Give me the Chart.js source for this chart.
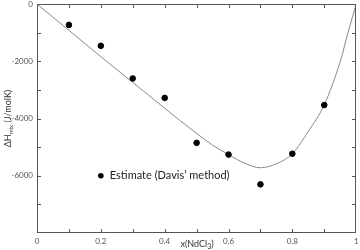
<!DOCTYPE html>
<html>
<head>
<meta charset="utf-8">
<script src="https://cdn.jsdelivr.net/npm/chart.js@4/dist/chart.umd.min.js"></script>
<style>
  html, body { margin: 0; padding: 0; background: #fff; }
  #wrap { width: 360px; height: 250px; }
</style>
</head>
<body>
<div id="wrap"><canvas id="c"></canvas></div>
<script>
// Davis' method estimates
const estX = [0.1, 0.2, 0.3, 0.4, 0.5, 0.6, 0.7, 0.8, 0.9]
const estH = [-730, -1460, -2600, -3280, -4850, -5260, -6300, -5230, -3530]

// fitted curve
const fitX = [0, 0.05, 0.1, 0.15, 0.2, 0.25, 0.3, 0.35, 0.4, 0.45, 0.5, 0.55, 0.6, 0.65, 0.7, 0.75, 0.8, 0.85, 0.9, 0.95, 0.975, 1]
const fitH = [0, -460, -920, -1380, -1840, -2290, -2740, -3190, -3640, -4090, -4520, -4930, -5260, -5560, -5720, -5580, -5230, -4450, -3520, -2010, -970, 0]

const LEGEND_LABEL = "Estimate (Davis\u2019 method)"
const FONT = "Lato, 'Open Sans', sans-serif"
const TICK_COLOR = "#555"

const drawSubText = (ctx, parts, cx, y) => {
  // parts: [text, size, dy]
  let total = 0
  parts.forEach(([t, size]) => {
    ctx.font = size + "px " + FONT
    total += ctx.measureText(t).width
  })
  let x = cx - total / 2
  parts.forEach(([t, size, dy]) => {
    ctx.font = size + "px " + FONT
    ctx.fillText(t, x, y + dy)
    x += ctx.measureText(t).width
  })
}

const frame = {
  id: "frame",
  afterDraw(chart) {
    const { ctx, chartArea: a, scales } = chart
    const L = Math.round(a.left), R = Math.round(a.right)
    const T = Math.round(a.top), B = Math.round(a.bottom)
    ctx.save()
    ctx.fillStyle = "#555"
    // box, drawn as thin fills
    ctx.fillRect(L, T, R - L, 1)
    ctx.fillRect(L, B - 1, R - L, 1)
    ctx.fillRect(L, T, 1, B - T)
    ctx.fillRect(R - 1, T, 1, B - T)

    // inward ticks on all four sides
    scales.x.ticks.forEach((t) => {
      const px = Math.round(scales.x.getPixelForValue(t.value))
      ctx.fillRect(Math.min(px, R - 1), B - 4, 1, 3)
      ctx.fillRect(Math.min(px, R - 1), T + 1, 1, 3)
    })
    scales.y.ticks.forEach((t) => {
      const py = Math.round(scales.y.getPixelForValue(t.value))
      ctx.fillRect(L + 1, Math.min(py, B - 1), 3, 1)
      ctx.fillRect(R - 4, Math.min(py, B - 1), 3, 1)
    })

    // legend
    const lx = scales.x.getPixelForValue(0.2)
    const ly = scales.y.getPixelForValue(-6000)
    ctx.fillStyle = "#000"
    ctx.beginPath()
    ctx.arc(lx, ly, 2.8, 0, Math.PI * 2)
    ctx.fill()
    ctx.fillStyle = "#222"
    ctx.font = "11px " + FONT
    ctx.textBaseline = "middle"
    ctx.fillText(LEGEND_LABEL, lx + 9, ly)

    // axis titles with subscripts
    ctx.fillStyle = "#333"
    ctx.textBaseline = "alphabetic"
    drawSubText(ctx, [["x(NdCl", 9, 0], ["3", 7, 2], [")", 9, 0]], 197, 247)

    ctx.translate(11, (a.top + a.bottom) / 2)
    ctx.rotate(-Math.PI / 2)
    drawSubText(ctx, [["\u0394H", 9, 0], ["mix", 6, 2], [" (J/molK)", 9, 0]], 0, 0)
    ctx.restore()
  },
}

new Chart(document.getElementById("c"), {
  type: "scatter",
  data: {
    datasets: [
      {
        label: LEGEND_LABEL,
        data: estX.map((x, i) => ({ x, y: estH[i] })),
        backgroundColor: "#000",
        borderColor: "#000",
        pointRadius: 2.8,
        pointHoverRadius: 2.8,
      },
      {
        label: "fit",
        type: "line",
        data: fitX.map((x, i) => ({ x, y: fitH[i] })),
        borderColor: "#888",
        borderWidth: 1,
        pointRadius: 0,
        cubicInterpolationMode: "monotone",
        fill: false,
      },
    ],
  },
  options: {
    animation: false,
    responsive: true,
    maintainAspectRatio: false,
    layout: { padding: { top: 4, right: 3, left: 0, bottom: 0 } },
    plugins: { legend: { display: false }, tooltip: { enabled: false } },
    scales: {
      x: {
        type: "linear",
        min: 0,
        max: 1,
        grid: { display: false, drawTicks: false },
        border: { display: false },
        afterFit: (s) => {
          s.height = 17
          s.paddingLeft = 0
          s.paddingRight = 0
        },
        ticks: {
          stepSize: 0.1,
          padding: 4,
          maxRotation: 0,
          color: TICK_COLOR,
          font: { family: FONT, size: 8 },
          callback: (v) => (Math.round(v * 10) % 2 === 0 ? String(Math.round(v * 10) / 10) : ""),
        },
      },
      y: {
        min: -8000,
        max: 0,
        grid: { display: false, drawTicks: false },
        border: { display: false },
        afterFit: (s) => {
          s.width = 37
          s.paddingTop = 0
          s.paddingBottom = 0
        },
        ticks: {
          stepSize: 1000,
          padding: 4,
          color: TICK_COLOR,
          font: { family: FONT, size: 8 },
          callback: (v) => (v % 2000 === 0 && v > -8000 ? String(v) : ""),
        },
      },
    },
  },
  plugins: [frame],
})
</script>
</body>
</html>
